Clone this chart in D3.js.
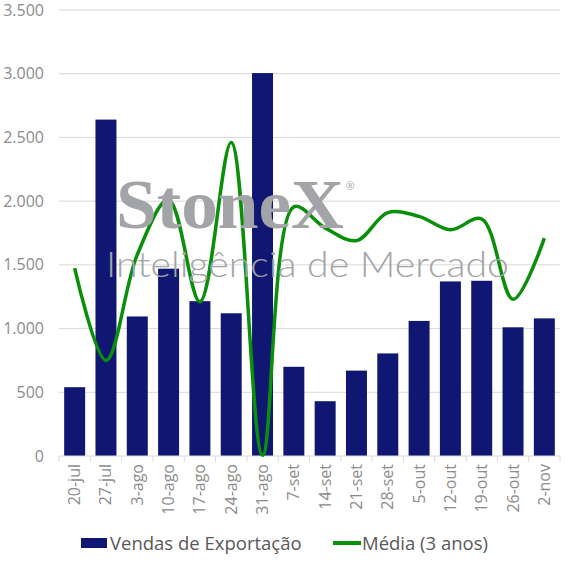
<!DOCTYPE html>
<html>
<head>
<meta charset="utf-8">
<script src="https://d3js.org/d3.v7.min.js"></script>
<style>
  body { margin: 0; background: #fff; }
  svg { font-family: "Open Sans", sans-serif; }
</style>
</head>
<body>
<div id="chart"></div>
<script>
var weeks = ["20-jul", "27-jul", "3-ago", "10-ago", "17-ago", "24-ago", "31-ago", "7-set",
  "14-set", "21-set", "28-set", "5-out", "12-out", "19-out", "26-out", "2-nov"];
var exportSales = [540, 2640, 1095, 1470, 1215, 1120, 3005, 700, 430, 670, 805, 1060, 1370, 1375, 1010, 1080];
var avg3y = [1475, 750, 1580, 2010, 1210, 2460, 5, 1955, 1790, 1690, 1910, 1880, 1775, 1860, 1230, 1710];
var yTicks = [0, 500, 1000, 1500, 2000, 2500, 3000, 3500];

var svgWidth = 567;
var svgHeight = 567;
var margin = { top: 10, right: 7, left: 59, bottom: 111 };
var width = svgWidth - margin.left - margin.right;
var height = svgHeight - margin.top - margin.bottom;

var svg = d3.select("#chart")
  .append("svg")
  .attr("width", svgWidth)
  .attr("height", svgHeight);

var chartGroup = svg.append("g")
  .attr("transform", `translate(${margin.left}, ${margin.top})`);

var x = d3.scaleBand()
  .domain(weeks)
  .range([0, width])
  .paddingInner(0.33)
  .paddingOuter(0.165);

var band = d3.scaleBand().domain(weeks).range([0, width]);

var y = d3.scaleLinear()
  .domain([0, 3500])
  .range([height, 0]);

// watermark (drawn under everything)
var wm = svg.append("g").attr("fill", "#a2a4a8");
wm.append("text")
  .attr("x", 116).attr("y", 228)
  .attr("font-family", "Liberation Serif, serif")
  .attr("font-weight", "bold")
  .attr("font-size", 70)
  .attr("textLength", 228)
  .attr("lengthAdjust", "spacingAndGlyphs")
  .text("StoneX");
wm.append("text")
  .attr("x", 346).attr("y", 190)
  .attr("font-size", 10)
  .text("®");
wm.append("text")
  .attr("x", 106).attr("y", 277)
  .attr("font-family", "Lato, sans-serif")
  .attr("font-weight", 300)
  .attr("font-size", 35)
  .attr("textLength", 403)
  .attr("lengthAdjust", "spacingAndGlyphs")
  .text("Inteligência de Mercado");

// gridlines
chartGroup.append("g")
  .selectAll("line")
  .data(yTicks.slice(1))
  .enter()
  .append("line")
  .attr("x1", 0)
  .attr("x2", width)
  .attr("y1", d => y(d))
  .attr("y2", d => y(d))
  .attr("stroke", "#d9d9d9")
  .attr("stroke-width", 1);

// y axis labels
var leftAxis = d3.axisLeft(y).tickValues(yTicks).tickSize(0).tickPadding(15)
  .tickFormat(d => d3.format(",")(d).replace(/,/g, "."));
var yAxis = chartGroup.append("g").call(leftAxis);
yAxis.select(".domain").remove();
yAxis.selectAll("text")
  .attr("font-family", "Open Sans, sans-serif")
  .attr("fill", "#8c8c8c")
  .attr("font-size", "16px");

// bars
chartGroup.selectAll("rect.bar")
  .data(exportSales)
  .enter()
  .append("rect")
  .attr("class", "bar")
  .attr("x", (d, i) => x(weeks[i]))
  .attr("y", d => y(d))
  .attr("width", x.bandwidth())
  .attr("height", d => height - y(d))
  .attr("fill", "#0f1773");

// x axis
var xAxis = chartGroup.append("g")
  .attr("transform", `translate(0, ${height})`);
xAxis.append("line")
  .attr("x1", 0).attr("x2", width)
  .attr("stroke", "#d9d9d9");
xAxis.selectAll("line.tick")
  .data(d3.range(weeks.length + 1))
  .enter()
  .append("line")
  .attr("class", "tick")
  .attr("x1", i => i * band.step())
  .attr("x2", i => i * band.step())
  .attr("y1", 0).attr("y2", 6)
  .attr("stroke", "#d9d9d9");
xAxis.selectAll("text")
  .data(weeks)
  .enter()
  .append("text")
  .attr("transform", d => `translate(${band(d) + band.bandwidth() / 2 + 5.5}, 8) rotate(-90)`)
  .attr("text-anchor", "end")
  .attr("fill", "#8c8c8c")
  .attr("font-size", "16px")
  .text(d => d);

// average line
var line = d3.line()
  .x((d, i) => band(weeks[i]) + band.bandwidth() / 2)
  .y(d => y(d))
  .curve(d3.curveCatmullRom.alpha(0.5));

chartGroup.append("path")
  .datum(avg3y)
  .attr("d", line)
  .attr("fill", "none")
  .attr("stroke", "#0a8f0a")
  .attr("stroke-width", 3.5)
  .attr("stroke-linejoin", "round");

// legend
var legend = svg.append("g").attr("font-size", "18.5px").attr("fill", "#595959");
legend.append("rect")
  .attr("x", 81).attr("y", 538).attr("width", 26).attr("height", 10)
  .attr("fill", "#0f1773");
legend.append("text")
  .attr("x", 110).attr("y", 550)
  .text("Vendas de Exportação");
legend.append("line")
  .attr("x1", 333).attr("x2", 361).attr("y1", 543).attr("y2", 543)
  .attr("stroke", "#0a8f0a").attr("stroke-width", 4);
legend.append("text")
  .attr("x", 362).attr("y", 550)
  .text("Média (3 anos)");
</script>
</body>
</html>
